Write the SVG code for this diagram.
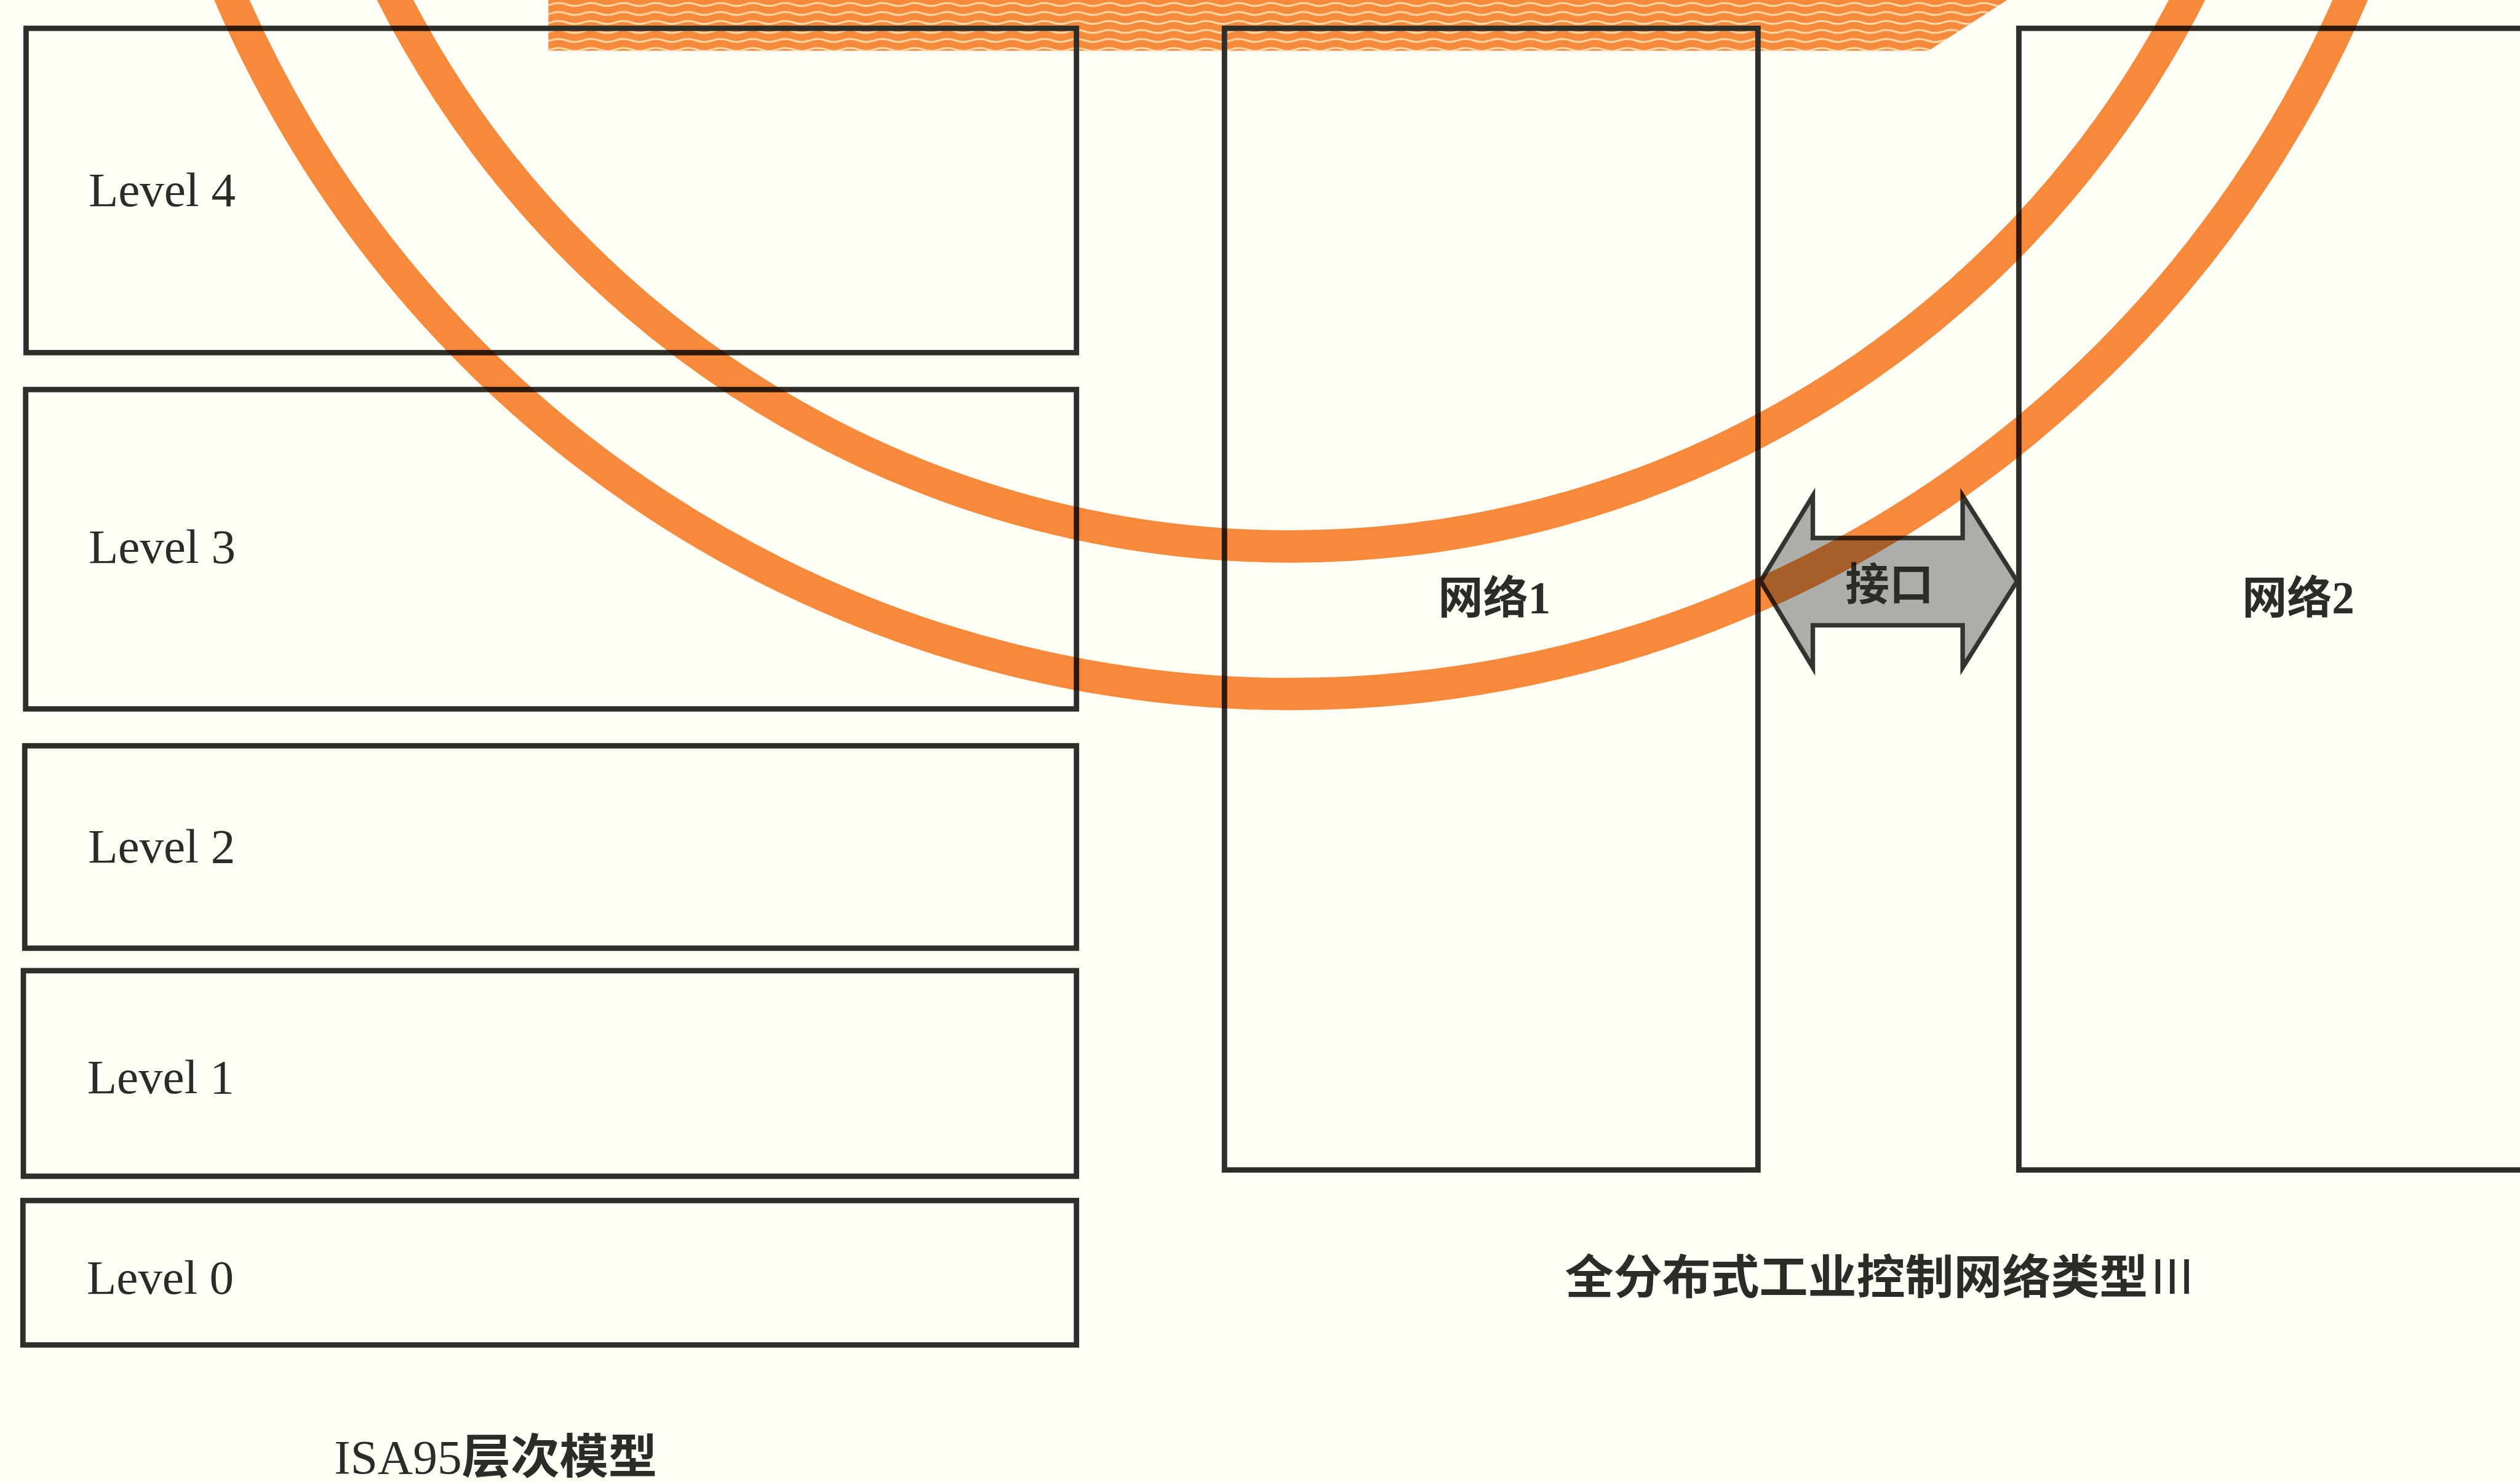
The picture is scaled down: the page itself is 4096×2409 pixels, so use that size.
<svg xmlns="http://www.w3.org/2000/svg" width="4096" height="2409" viewBox="0 0 4096 2409">
  <style>
    .box { fill: none; stroke: #2e2e2a; stroke-width: 12; }
    .lvl { font-family: "Liberation Serif", "Noto Sans CJK SC", serif; font-size: 108px; fill: #2b2b28; }
    .cjk { font-family: "Liberation Serif", "Noto Sans CJK SC", serif; font-weight: 700; fill: #2b2b28; }
    .thin { font-weight: 400; }
    .ring { fill: none; stroke: #f68a3c; stroke-width: 72; }
    .arrow { fill: #adada9; stroke: #333330; stroke-width: 10; stroke-linejoin: miter; }
  </style>
  <defs>
    <!-- pale wavy lines printed over the orange banner -->
    <pattern id="waves" patternUnits="userSpaceOnUse" width="72" height="20">
      <path d="M0,10 Q18,3.5 36,10 T72,10" fill="none" stroke="#ffdcaa" stroke-width="4"/>
    </pattern>
  </defs>

  <rect width="4096" height="2409" fill="#fffef6"/>

  <!-- drawn in 5602 x 3295 units, scaled to the 4096 x 2409 page -->
  <g transform="scale(0.731167)">

    <!-- orange banner along the top edge -->
    <g id="banner">
      <polygon points="1219,0 4462,0 4287,113 1219,113" fill="#f68a3c"/>
      <polygon points="1219,0 4462,0 4287,113 1219,113" fill="url(#waves)"/>
    </g>

    <!-- ISA95 hierarchy levels -->
    <g id="level4">
      <rect class="box" x="58" y="63" width="2335" height="721"/>
      <text class="lvl" x="197" y="458">Level 4</text>
    </g>
    <g id="level3">
      <rect class="box" x="57" y="866" width="2336" height="710"/>
      <text class="lvl" x="197" y="1252">Level 3</text>
    </g>
    <g id="level2">
      <rect class="box" x="55" y="1658" width="2338" height="450"/>
      <text class="lvl" x="196" y="1918">Level 2</text>
    </g>
    <g id="level1">
      <rect class="box" x="52" y="2158" width="2341" height="457"/>
      <text class="lvl" x="194" y="2430">Level 1</text>
    </g>
    <g id="level0">
      <rect class="box" x="51" y="2669" width="2342" height="321"/>
      <text class="lvl" x="193" y="2876">Level 0</text>
    </g>

    <!-- the two networks -->
    <g id="network1">
      <rect class="box" x="2722" y="63" width="1186" height="2538"/>
      <text class="cjk" x="3197" y="1364" font-size="100">网络1</text>
    </g>
    <g id="network2">
      <rect class="box" x="4488" y="63" width="1200" height="2538"/>
      <text class="cjk" x="4984" y="1364" font-size="100">网络2</text>
    </g>

    <!-- interface between network 1 and network 2 -->
    <g id="connectors">
      <path class="arrow" d="M3914,1292 L4030,1102 L4030,1196 L4363,1196 L4363,1102 L4484,1292 L4363,1484 L4363,1390 L4030,1390 L4030,1484 Z"/>
      <text class="cjk" x="4102" y="1334" font-size="98">接口</text>
    </g>

    <!-- two concentric orange rings, printed over the boxes -->
    <g id="rings" style="mix-blend-mode: multiply">
      <circle class="ring" cx="2870" cy="-1025" r="2240"/>
      <circle class="ring" cx="2870" cy="-1025" r="2568"/>
    </g>

    <!-- captions -->
    <text class="cjk" x="3479" y="2876" font-size="104" textLength="1404" lengthAdjust="spacingAndGlyphs">全分布式工业控制网络类型<tspan class="thin">Ⅲ</tspan></text>
    <text class="cjk" x="743" y="3276" font-size="106" textLength="718" lengthAdjust="spacingAndGlyphs"><tspan class="thin">ISA95</tspan>层次模型</text>
  </g>
</svg>
